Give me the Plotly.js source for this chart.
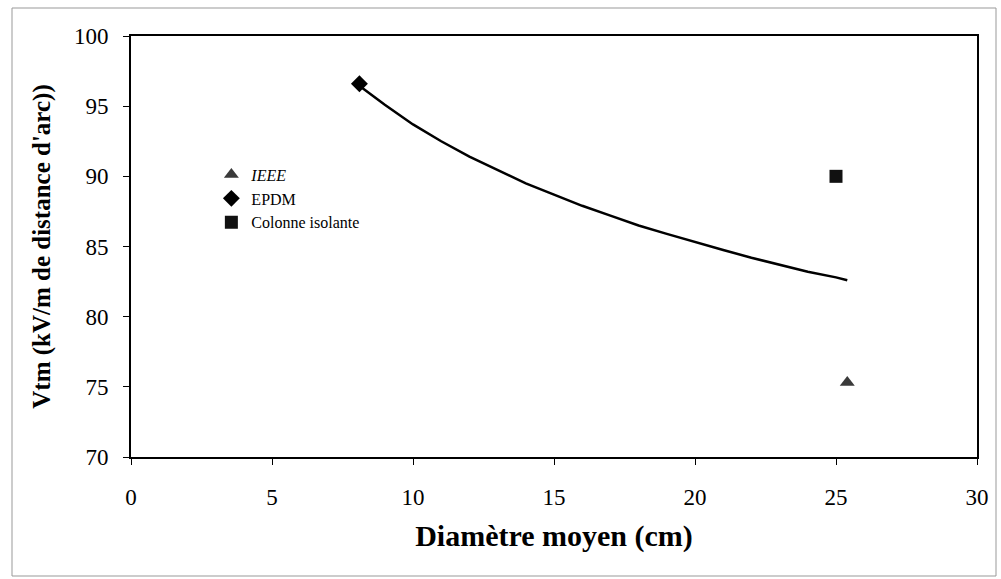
<!DOCTYPE html>
<html><head><meta charset="utf-8">
<script src="https://cdn.plot.ly/plotly-3.0.1.min.js"></script>
<style>html,body{margin:0;padding:0;background:#fff;}#c{width:1001px;height:579px;}</style>
</head><body><div id="c"></div>
<script>
// Fitted curve
const curveX = [8, 9, 10, 11, 12, 13, 14, 15, 16, 17, 18, 19, 20, 21, 22, 23, 24, 25, 25.4];
const curveY = [96.6, 95.1, 93.7, 92.5, 91.4, 90.45, 89.5, 88.7, 87.9, 87.2, 86.5, 85.9, 85.3, 84.75, 84.2, 83.7, 83.2, 82.8, 82.6];
// Measured points
const ieeeX = [25.4];  const ieeeY = [75.3];
const epdmX = [8.1];   const epdmY = [96.6];
const colX = [25.0];   const colY = [90.0];
const xTicks = [0, 5, 10, 15, 20, 25, 30];
const yTicks = [70, 75, 80, 85, 90, 95, 100];

const serif = "Liberation Serif";
const traces = [
  {x: curveX, y: curveY, mode: 'lines', line: {color: '#000', width: 2.5}, showlegend: false, hoverinfo: 'skip'},
  {x: ieeeX, y: ieeeY, mode: 'markers', name: '<i>IEEE</i>', marker: {symbol: 'triangle-up', size: 13, color: '#3a3a3a'}},
  {x: epdmX, y: epdmY, mode: 'markers', name: 'EPDM', marker: {symbol: 'diamond', size: 13, color: '#000'}},
  {x: colX, y: colY, mode: 'markers', name: 'Colonne isolante', marker: {symbol: 'square', size: 13, color: '#111'}}
];
const layout = {
  width: 1001, height: 579,
  margin: {l: 131, r: 24, t: 36, b: 122},
  paper_bgcolor: '#fff', plot_bgcolor: '#fff',
  font: {family: serif, color: '#000', size: 20},
  xaxis: {range: [0, 30], tickvals: xTicks, ticks: 'outside', ticklen: 6, tickcolor: '#000',
    showline: true, linecolor: '#000', linewidth: 2, mirror: true, showgrid: false, zeroline: false,
    tickfont: {family: serif, size: 23}, ticklabelstandoff: 12,
    title: {text: '<b>Diamètre moyen (cm)</b>', font: {family: serif, size: 30}, standoff: 16}},
  yaxis: {range: [70, 100], tickvals: yTicks, ticks: 'outside', ticklen: 6, tickcolor: '#000',
    showline: true, linecolor: '#000', linewidth: 2, mirror: true, showgrid: false, zeroline: false,
    tickfont: {family: serif, size: 23}, ticklabelstandoff: 10,
    title: {text: "<b>Vtm (kV/m de distance d'arc))</b>", font: {family: serif, size: 25}, standoff: 16}},
  legend: {x: 0.095, y: 0.711, xanchor: 'left', yanchor: 'top', bgcolor: 'rgba(0,0,0,0)',
    font: {family: serif, size: 16}, tracegroupgap: 0, itemwidth: 30},
  shapes: [{type: 'rect', xref: 'paper', yref: 'paper', x0: (12-131)/846, x1: (996-131)/846,
    y0: 1 - (576-36)/421, y1: 1 + (36-8)/421, line: {color: '#999', width: 1}}],
  showlegend: true
};
Plotly.newPlot('c', traces, layout, {displayModeBar: false, staticPlot: true});
</script></body></html>
